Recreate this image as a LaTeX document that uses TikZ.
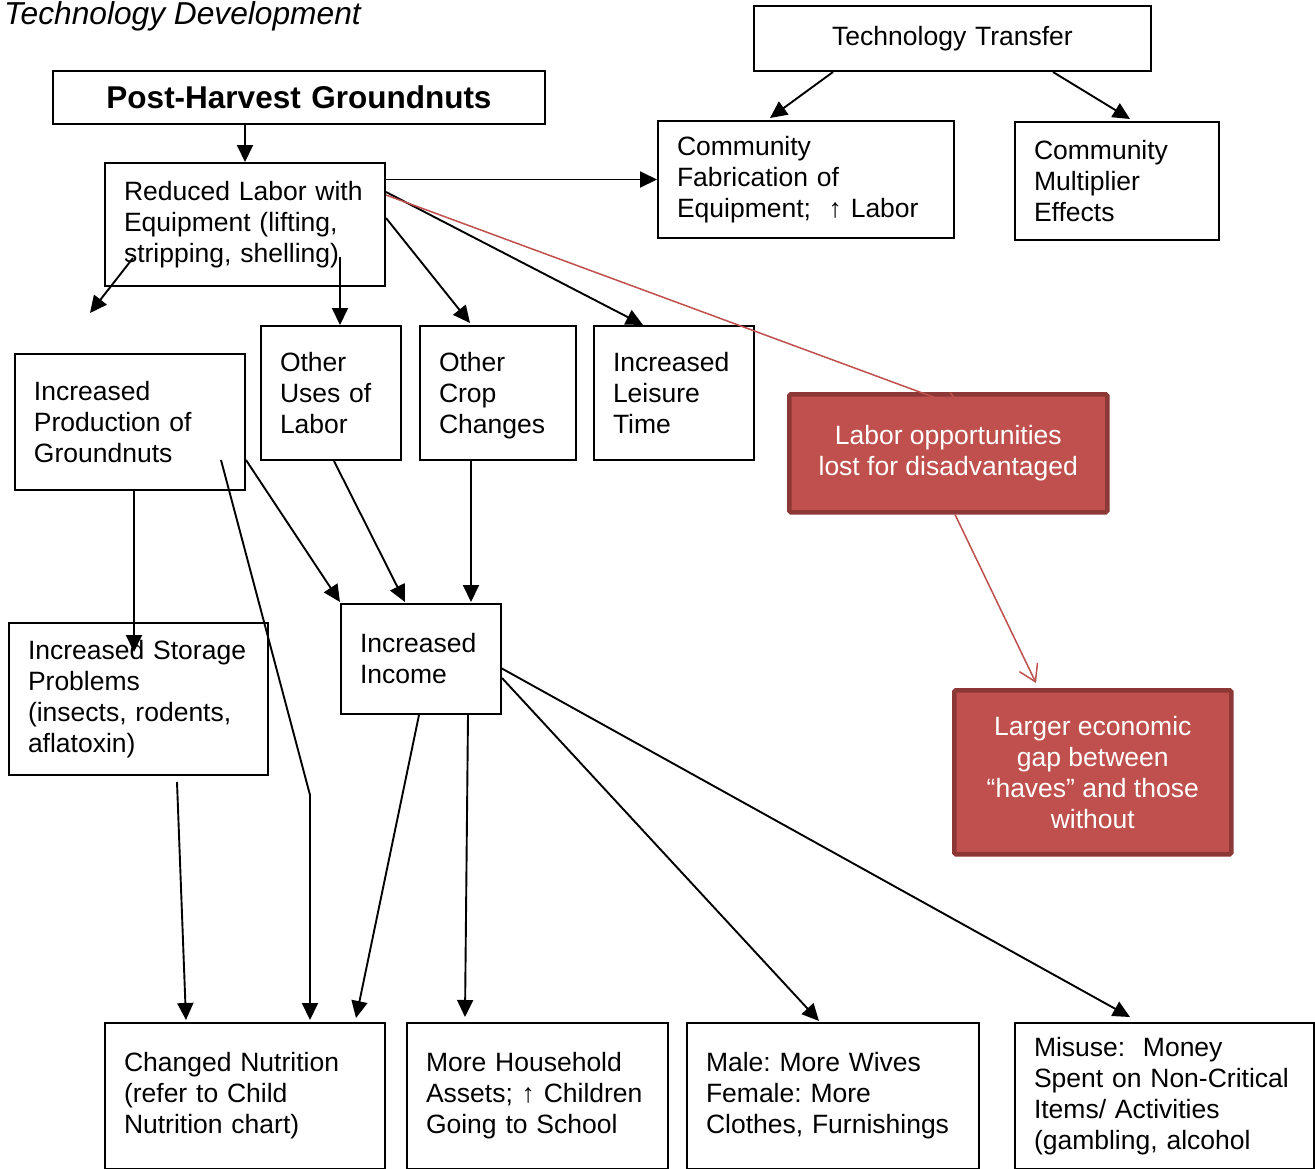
\documentclass[tikz,border=0pt]{standalone}
\usepackage{fontspec}
\setmainfont{Liberation Sans}
\usetikzlibrary{arrows.meta,calc}
\definecolor{redfill}{HTML}{C0504D}
\definecolor{redline}{HTML}{8C3836}
\frenchspacing
\begin{document}
\begin{tikzpicture}[x=1pt,y=-1pt,
  txt/.style={font=\fontsize{26.5}{31}\selectfont},
  box/.style={txt, draw=black, line width=2pt, rectangle, inner xsep=19pt, inner ysep=0pt, align=left, anchor=north west},
  redbox/.style={txt, draw=redline, fill=redfill, line width=4.5pt, text=white, align=center, anchor=north west, rounded corners=1.5pt, inner sep=0pt},
  arr/.style={line width=1.9pt, -{Triangle[length=17pt,width=16pt]}},
  redarr/.style={draw=redfill, line width=1.5pt, -{Straight Barb[length=16pt,width=20pt]}}
]
\fill[white] (0,0) rectangle (1315,1168);
\clip (0,0) rectangle (1315,1168);

\node[anchor=base west, inner sep=0pt, font=\fontsize{31.7}{36}\selectfont\itshape] (title) at (4,24) {Technology Development};

\node[box, minimum width=492pt, minimum height=53pt, text width=454pt, align=center, font=\fontsize{31.5}{35}\selectfont\bfseries] (ph) at (52,70) {Post-Harvest Groundnuts};
\node[box, minimum width=280pt, minimum height=123pt, text width=242pt] (rl) at (104,162) {Reduced Labor with\\Equipment (lifting,\\stripping, shelling)};
\node[box, minimum width=397pt, minimum height=65pt, text width=359pt, align=center] (tt) at (753,5) {Technology Transfer};
\node[box, minimum width=296pt, minimum height=117pt, text width=258pt] (cf) at (657,120) {Community\\Fabrication of\\Equipment;\ \ ↑ Labor};
\node[box, minimum width=204pt, minimum height=118pt, text width=166pt] (cm) at (1014,121) {Community\\Multiplier\\Effects};
\node[box, minimum width=230pt, minimum height=136pt, text width=192pt] (ip) at (14,353) {Increased\\Production of\\Groundnuts};
\node[box, minimum width=140pt, minimum height=134pt, text width=102pt] (ou) at (260,325) {Other\\Uses of\\Labor};
\node[box, minimum width=156pt, minimum height=134pt, text width=118pt] (oc) at (419,325) {\raisebox{0pt}[\height][0pt]{\parbox[b]{118pt}{Other\\Crop\\Changes}}};
\node[box, minimum width=160pt, minimum height=134pt, text width=122pt] (lt) at (593,325) {Increased\\Leisure\\Time};
\node[redbox, minimum width=318pt, minimum height=118pt] (lo) at (787,392) {Labor opportunities\\lost for disadvantaged};
\node[redbox, minimum width=277pt, minimum height=164pt] (gap) at (952,688) {Larger economic\\gap between\\“haves” and those\\without};
\node[box, minimum width=259pt, minimum height=152pt, text width=221pt] (st) at (8,622) {Increased Storage\\Problems\\(insects, rodents,\\aflatoxin)};
\node[box, minimum width=160pt, minimum height=110pt, text width=122pt] (inc) at (340,603) {Increased\\Income};
\node[box, minimum width=280pt, minimum height=146pt, text width=242pt] (cn) at (104,1022) {Changed Nutrition\\(refer to Child\\Nutrition chart)};
\node[box, minimum width=261pt, minimum height=146pt, text width=223pt] (mh) at (406,1022) {More Household\\Assets; ↑ Children\\Going to School};
\node[box, minimum width=292pt, minimum height=146pt, text width=254pt] (mw) at (686,1022) {Male: More Wives\\Female: More\\Clothes, Furnishings};
\node[box, minimum width=299pt, minimum height=146pt, text width=261pt] (mu) at (1014,1022) {Misuse:\ \ Money\\Spent on Non-Critical\\Items/ Activities\\(gambling, alcohol};

\coordinate (efree) at ($(ip.north west)+(76,-40)$);
\coordinate (bend) at ($(cn.north west)+(206,-227)$);

\draw[arr] (rl.north |- ph.south) -- (rl.north);
\draw[arr] (rl.east |- cf.west) -- (cf.west);
\draw[arr] ($(tt.south west)+(80,0)$) -- ($(cf.north west)+(113,-2)$);
\draw[arr] ($(tt.south east)+(-99,0)$) -- ($(cm.north west)+(116,-2)$);
\draw[arr] ($(rl.south west)+(29,-29)$) -- (efree);
\draw[arr] ($(rl.south west)+(236,-30)$) -- ($(ou.north west)+(80,0)$);
\draw[arr] ($(rl.north east)+(0,56)$) -- ($(oc.north west)+(51,-2)$);
\draw[arr] ($(rl.north east)+(0,30)$) -- ($(lt.north west)+(50,0)$);
\draw[arr] ($(ip.south west)+(120,0)$) -- ($(st.north west)+(126,30)$);
\draw[arr] ($(ip.north west)+(207,107)$) -- (bend) -- ($(cn.north west)+(206,-2)$);
\draw[arr] ($(ip.north east)+(0,107)$) -- ($(inc.north west)+(0,-1)$);
\draw[arr] ($(ou.south west)+(74,0)$) -- ($(inc.north west)+(65,-1)$);
\draw[arr] ($(oc.south west)+(52,0)$) -- ($(inc.north west)+(131,-1)$);
\draw[arr] ($(st.south west)+(169,6)$) -- ($(cn.north west)+(82,-2)$);
\draw[arr] ($(inc.south west)+(79,0)$) -- ($(cn.north west)+(252,-4)$);
\draw[arr] ($(inc.south west)+(128,0)$) -- ($(mh.north west)+(59,-5)$);
\draw[arr] ($(inc.north east)+(0,75)$) -- ($(mw.north west)+(133,-1)$);
\draw[arr] ($(inc.north east)+(-1,65)$) -- ($(mu.north west)+(116,-5)$);

\draw[redarr] ($(rl.north east)+(0,33)$) -- ($(lo.north west)+(176,16)$);
\draw[redarr] ($(lo.south west)+(168,0)$) -- ($(gap.north west)+(84,-5)$);
\end{tikzpicture}
\end{document}
